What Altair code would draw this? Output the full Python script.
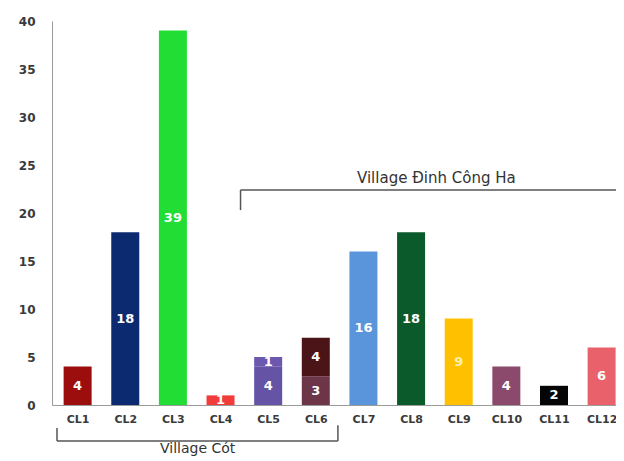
import altair as alt
import pandas as pd

# Segment data (one row per stacked segment)
seg_cat = [1, 2, 3, 4, 5, 5, 6, 6, 7, 8, 9, 10, 11, 12]
seg_val = [4, 18, 39, 1, 4, 1, 3, 4, 16, 18, 9, 4, 2, 6]
seg_order = [0, 0, 0, 0, 0, 1, 0, 1, 0, 0, 0, 0, 0, 0]
seg_color = ["#9c0d0d", "#0b2a6f", "#22dd33", "#f23b3b", "#6553a6", "#6c58ad",
             "#6c3548", "#4b1518", "#5a95dc", "#0a5a2c", "#ffc000", "#8b4a6c",
             "#050505", "#e9616b"]
seg_label_color = ["white"] * 10 + ["#fff0b0"] + ["white"] * 3
cat_names = ["CL1", "CL2", "CL3", "CL4", "CL5", "CL6", "CL7", "CL8", "CL9",
             "CL10", "CL11", "CL12"]

rows = []
base = {}
for c, v, o, col, lc in zip(seg_cat, seg_val, seg_order, seg_color, seg_label_color):
    b = base.get(c, 0)
    rows.append({"x": c, "y0": b, "y1": b + v, "mid": b + v / 2, "lab": str(v),
                 "col": col, "lc": lc})
    base[c] = b + v
df = pd.DataFrame(rows)

xs = alt.Scale(domain=[0.567, 12.197], nice=False, zero=False)
ys = alt.Scale(domain=[0, 40], nice=False)

bars = alt.Chart(df).mark_bar(size=28).encode(
    x=alt.X("x:Q", scale=xs, axis=alt.Axis(
        values=list(range(1, 13)), labelExpr="'CL' + datum.value", title=None,
        grid=False, ticks=False, labelPadding=8, labelFont="DejaVu Sans",
        labelFontWeight="bold", labelFontSize=11, labelColor="#3a3a3a",
        domainColor="#9a9a9a", labelFlush=False)),
    y=alt.Y("y0:Q", scale=ys, axis=alt.Axis(
        values=[0, 5, 10, 15, 20, 25, 30, 35, 40], title=None, grid=False,
        ticks=False, labelPadding=17, labelFont="DejaVu Sans",
        labelFontWeight="bold", labelFontSize=12, labelColor="#3a3a3a",
        domainColor="#9a9a9a")),
    y2="y1:Q",
    color=alt.Color("col:N", scale=None),
)

labels = alt.Chart(df).mark_text(font="DejaVu Sans", fontWeight="bold",
                                 fontSize=13, baseline="middle").encode(
    x=alt.X("x:Q", scale=xs), y=alt.Y("mid:Q", scale=ys), text="lab:N",
    color=alt.Color("lc:N", scale=None),
)

# Bracket annotations (data coordinates)
br_x = [0.567, 0.567, 6.464, 4.42, 4.42]
br_x2 = [0.567, 6.464, 6.464, 12.4, 4.42]
br_y = [-2.4, -3.75, -2.1, 22.4, 22.4]
br_y2 = [-3.75, -3.75, -3.75, 22.4, 20.3]
br = pd.DataFrame({"x": br_x, "x2": br_x2, "y": br_y, "y2": br_y2})
rules = alt.Chart(br).mark_rule(color="#555555", strokeWidth=1.5).encode(
    x=alt.X("x:Q", scale=xs), x2="x2:Q", y=alt.Y("y:Q", scale=ys), y2="y2:Q")

village_names = ["Village Cót", "Village Đinh Công Ha"]
village_x = [3.52, 8.53]
village_y = [-3.9, 23.65]
vdf = pd.DataFrame({"t": village_names, "x": village_x, "y": village_y})
vtext1 = alt.Chart(vdf.iloc[[0]]).mark_text(font="DejaVu Sans", fontSize=14,
                                           color="#333333", baseline="top").encode(
    x=alt.X("x:Q", scale=xs), y=alt.Y("y:Q", scale=ys), text="t:N")
vtext2 = alt.Chart(vdf.iloc[[1]]).mark_text(font="DejaVu Sans", fontSize=15,
                                           color="#333333", baseline="middle").encode(
    x=alt.X("x:Q", scale=xs), y=alt.Y("y:Q", scale=ys), text="t:N")

chart = alt.layer(bars, labels, rules, vtext1, vtext2).properties(
    width=564, height=384,
    autosize=alt.AutoSizeParams(type="none"),
    padding={"left": 44, "top": 13, "right": 0, "bottom": 56},
    background="white",
).configure_view(stroke=None)

chart.save("out.html", embed_options={"renderer": "svg", "actions": False})
